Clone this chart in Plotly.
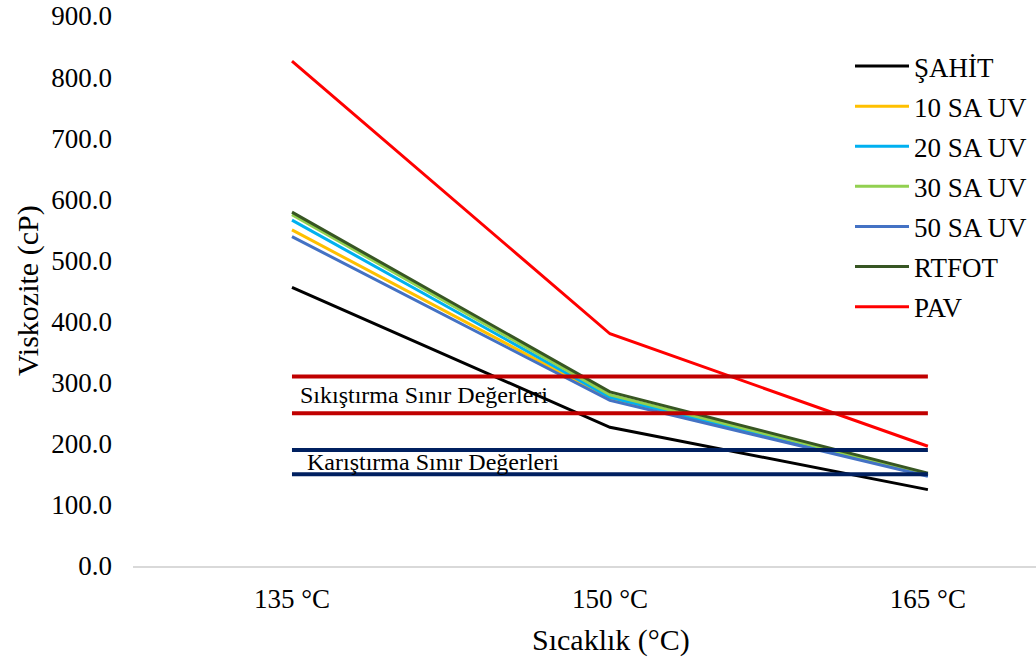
import plotly.graph_objects as go

categories = ["135 °C", "150 °C", "165 °C"]
series_names = ["ŞAHİT", "10 SA UV", "20 SA UV", "30 SA UV", "50 SA UV", "RTFOT", "PAV"]
sahit = [456, 227, 125]
sa10 = [550, 274, 149]
sa20 = [566, 276, 148]
sa30 = [575, 280, 150]
sa50 = [539, 271, 147]
rtfot = [579, 285, 152]
pav = [826, 380, 196]
series_values = [sahit, sa10, sa20, sa30, sa50, rtfot, pav]
colors = ["#000000", "#FFC000", "#00B0F0", "#92D050", "#4472C4", "#375623", "#FF0000"]

sikistirma_limits = [310, 250]
karistirma_limits = [190, 150]
sikistirma_label = "Sıkıştırma Sınır Değerleri"
karistirma_label = "Karıştırma Sınır Değerleri"

FONT = "Liberation Serif, Times New Roman, serif"

fig = go.Figure()
for i, (name, vals, col) in enumerate(zip(series_names, series_values, colors)):
    fig.add_trace(go.Scatter(x=categories, y=vals, name=name, mode="lines",
                             line=dict(color=col, width=3), legendgroup=f"g{i}"))

for v in sikistirma_limits:
    fig.add_trace(go.Scatter(x=categories, y=[v] * len(categories), mode="lines",
                             line=dict(color="#C00000", width=4), showlegend=False, hoverinfo="skip"))
for v in karistirma_limits:
    fig.add_trace(go.Scatter(x=categories, y=[v] * len(categories), mode="lines",
                             line=dict(color="#002060", width=4), showlegend=False, hoverinfo="skip"))

fig.add_annotation(x=categories[0], y=280, xref="x", yref="y", text=sikistirma_label,
                   showarrow=False, xanchor="left", xshift=6, yanchor="middle",
                   font=dict(family=FONT, size=24, color="#000000"))
fig.add_annotation(x=categories[0], y=170, xref="x", yref="y", text=karistirma_label,
                   showarrow=False, xanchor="left", xshift=13, yanchor="middle",
                   font=dict(family=FONT, size=24, color="#000000"))

fig.add_annotation(x=(28 - 133) / 903, y=0.5, xref="paper", yref="paper", text="Viskozite (cP)",
                   textangle=-90, showarrow=False, xanchor="center", yanchor="middle",
                   font=dict(family=FONT, size=30, color="#000000"))
fig.add_annotation(x=(611 - 133) / 903, y=-(640 - 566) / 550, xref="paper", yref="paper",
                   text="Sıcaklık (°C)", showarrow=False, xanchor="center", yanchor="middle",
                   font=dict(family=FONT, size=30, color="#000000"))

fig.update_layout(
    width=1036, height=666,
    margin=dict(l=133, r=0, t=16, b=100, autoexpand=False),
    paper_bgcolor="white", plot_bgcolor="white",
    font=dict(family=FONT, size=27, color="#000000"),
    showlegend=True,
    legend=dict(x=(850 - 133) / 903, y=(566 - 42) / 550, xanchor="left", yanchor="top",
                bgcolor="rgba(0,0,0,0)", traceorder="grouped", tracegroupgap=2,
                itemwidth=54,
                font=dict(family=FONT, size=27, color="#000000")),
    xaxis=dict(type="category", range=[-0.5, 2.34], showgrid=False, zeroline=False,
               showline=True, linecolor="#D9D9D9", linewidth=2, ticks="",
               ticklabelstandoff=8, tickfont=dict(family=FONT, size=27)),
    yaxis=dict(range=[0, 900], dtick=100, tickformat=".1f", showgrid=False, zeroline=False,
               showline=False, ticks="", ticklabelstandoff=20,
               tickfont=dict(family=FONT, size=27)),
)

fig.write_html("out.html")
